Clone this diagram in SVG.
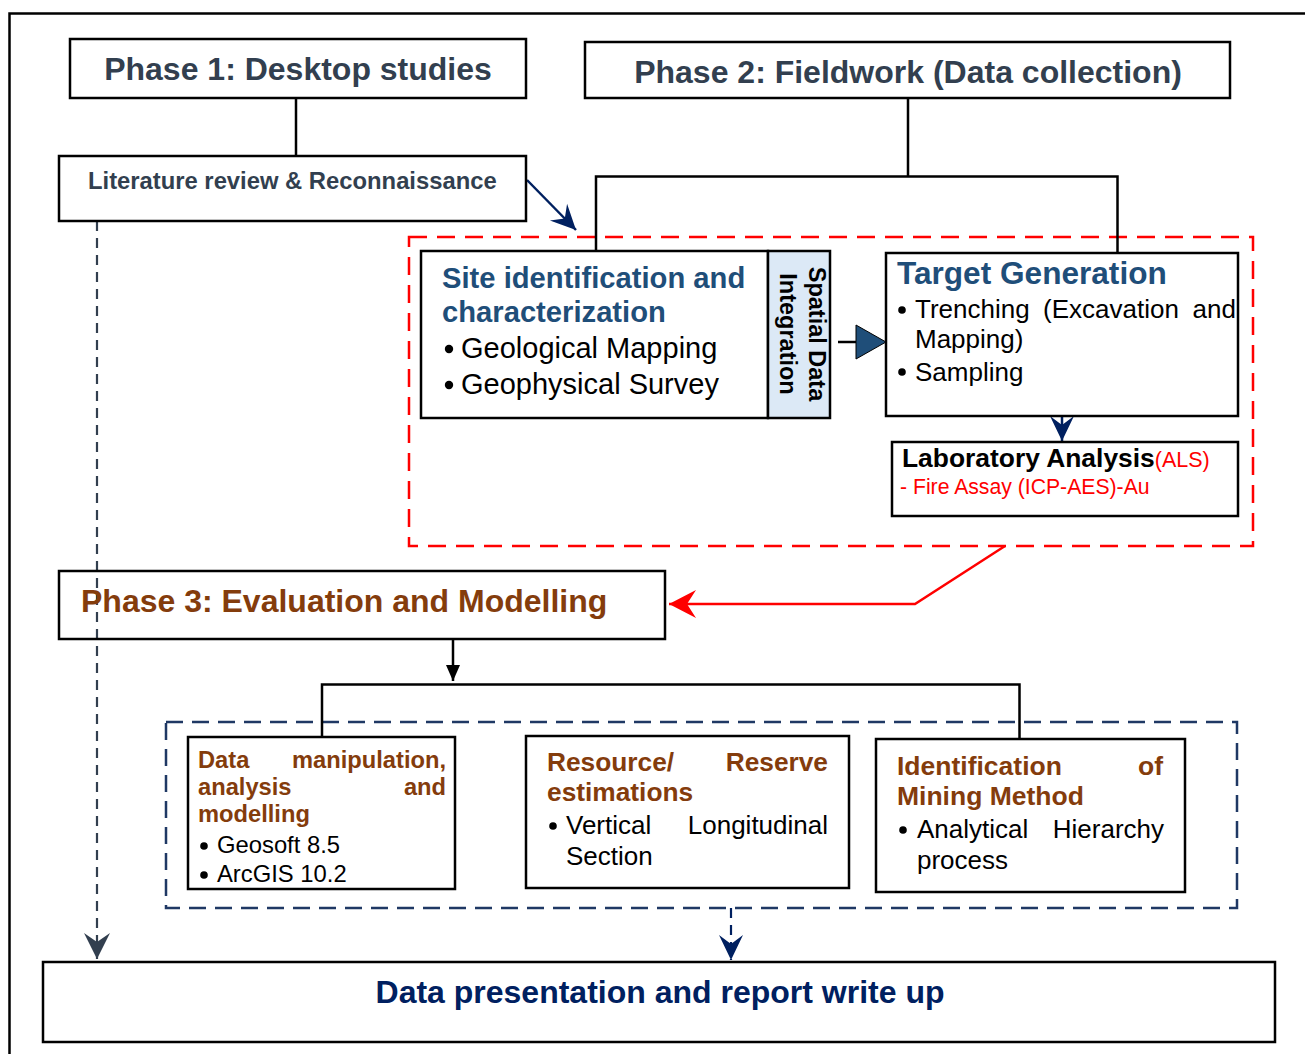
<svg xmlns="http://www.w3.org/2000/svg" width="1305" height="1054" viewBox="0 0 1305 1054">
  <style>
    text { font-family: "Liberation Sans", Arial, sans-serif; }
    .box { fill: none; stroke: #000; stroke-width: 2.5; }
    .b { font-weight: bold; }
    .slate { fill: #323f4f; }
    .blue { fill: #1f4e79; }
    .brown { fill: #843c0c; }
    .navy { fill: #002060; }
    .red { fill: #ff0000; }
    .ink { fill: #000; }
    .link { fill: none; stroke: #000; stroke-width: 2.5; }
    .dot { fill: #000; }
  </style>
  <defs>
    <marker id="stealthNavy" markerUnits="userSpaceOnUse" markerWidth="30" markerHeight="30" refX="0" refY="0" orient="auto" overflow="visible">
      <path d="M0,0 L-25,-12 L-16,0 L-25,12 Z" fill="#002060"/>
    </marker>
    <marker id="stealthRed" markerUnits="userSpaceOnUse" markerWidth="30" markerHeight="30" refX="0" refY="0" orient="auto" overflow="visible">
      <path d="M0,0 L-27,-14 L-18,0 L-27,14 Z" fill="#ff0000"/>
    </marker>
    <marker id="stealthSlate" markerUnits="userSpaceOnUse" markerWidth="30" markerHeight="30" refX="0" refY="0" orient="auto" overflow="visible">
      <path d="M0,0 L-26,-13 L-17,0 L-26,13 Z" fill="#323f4f"/>
    </marker>
    <marker id="triBlack" markerUnits="userSpaceOnUse" markerWidth="20" markerHeight="20" refX="0" refY="0" orient="auto" overflow="visible">
      <path d="M0,0 L-16,-7 L-16,7 Z" fill="#000"/>
    </marker>
  </defs>

  <rect width="1305" height="1054" fill="#fff"/>
  <!-- page frame -->
  <rect x="9.5" y="13.5" width="1330" height="1070" class="box"/>

  <!-- group outlines -->
  <rect id="fieldwork-zone" x="409" y="237" width="844" height="309" fill="none" stroke="#ff0000" stroke-width="2.5" stroke-dasharray="18 10"/>
  <rect id="modelling-zone" x="166" y="722" width="1071" height="186" fill="none" stroke="#1f3864" stroke-width="2.5" stroke-dasharray="17 9"/>

  <g id="connectors">
    <line x1="296" y1="98" x2="296" y2="156" class="link"/>
    <path d="M908,98 V176.5 M596,250 V176.5 H1117.5 V253" class="link"/>
    <line x1="527" y1="180" x2="576" y2="230" stroke="#002060" stroke-width="2.5" marker-end="url(#stealthNavy)"/>
    <line x1="838" y1="342" x2="858" y2="342" class="link"/>
    <path d="M856,325 L886,342 L856,359 Z" fill="#1f4e79" stroke="#000" stroke-width="1"/>
    <line x1="1062" y1="416" x2="1062" y2="441" stroke="#002060" stroke-width="2.5" marker-end="url(#stealthNavy)"/>
    <path d="M1005,546 L915,604 L669,604" fill="none" stroke="#ff0000" stroke-width="2.5" marker-end="url(#stealthRed)"/>
    <line x1="453" y1="639" x2="453" y2="681" class="link" marker-end="url(#triBlack)"/>
    <path d="M322,737 V684.5 H1019.5 V739" class="link"/>
    <line x1="97" y1="221" x2="97" y2="959" stroke="#323f4f" stroke-width="2.2" stroke-dasharray="10 7" marker-end="url(#stealthSlate)"/>
    <line x1="731" y1="908" x2="731" y2="960" stroke="#002060" stroke-width="2.2" stroke-dasharray="10 7" marker-end="url(#stealthNavy)"/>
  </g>

  <g id="phase1">
    <rect x="70" y="39" width="456" height="59" class="box"/>
    <text x="298" y="80" text-anchor="middle" font-size="32" class="b slate">Phase 1: Desktop studies</text>
  </g>

  <g id="literature-review">
    <rect x="59" y="156" width="467" height="65" class="box"/>
    <text x="88" y="189" font-size="23.8" class="b slate">Literature review &amp; Reconnaissance</text>
  </g>

  <g id="phase2">
    <rect x="585" y="42" width="645" height="56" class="box"/>
    <text x="908" y="83" text-anchor="middle" font-size="32" class="b slate">Phase 2: Fieldwork (Data collection)</text>
  </g>

  <g id="site-identification">
    <rect x="421" y="251" width="347" height="167" class="box"/>
    <text x="442" y="288" font-size="29.2" class="b blue">Site identification and</text>
    <text x="442" y="322" font-size="29.2" class="b blue">characterization</text>
    <circle cx="449" cy="349" r="4.2" class="dot"/>
    <text x="461" y="358" font-size="29" class="ink">Geological Mapping</text>
    <circle cx="449" cy="385" r="4.2" class="dot"/>
    <text x="461" y="394" font-size="29" class="ink">Geophysical Survey</text>
  </g>

  <g id="spatial-data-integration">
    <rect x="768" y="251" width="62" height="167" fill="#dce9f6" stroke="#000" stroke-width="2.5"/>
    <text transform="translate(809,334) rotate(90)" text-anchor="middle" font-size="23.5" class="b ink">Spatial Data</text>
    <text transform="translate(780,334) rotate(90)" text-anchor="middle" font-size="23.5" class="b ink">Integration</text>
  </g>

  <g id="target-generation">
    <rect x="886" y="253" width="352" height="163" class="box"/>
    <text x="897" y="284" font-size="31.6" class="b blue">Target Generation</text>
    <circle cx="902" cy="310" r="3.8" class="dot"/>
    <text x="915" y="318" font-size="26" class="ink">Trenching</text>
    <text x="1043" y="318" font-size="26" class="ink">(Excavation</text>
    <text x="1236" y="318" font-size="26" text-anchor="end" class="ink">and</text>
    <text x="915" y="348" font-size="26" class="ink">Mapping)</text>
    <circle cx="902" cy="372" r="3.8" class="dot"/>
    <text x="915" y="381" font-size="26" class="ink">Sampling</text>
  </g>

  <g id="laboratory-analysis">
    <rect x="892" y="442" width="346" height="74" class="box"/>
    <text x="902" y="467" font-size="26.4" class="b ink">Laboratory Analysis<tspan font-weight="normal" font-size="21.5" class="red">(ALS)</tspan></text>
    <text x="900" y="494" font-size="21.2" class="red">- Fire Assay (ICP-AES)-Au</text>
  </g>

  <g id="phase3">
    <rect x="59" y="571" width="606" height="68" class="box"/>
    <text x="81" y="612" font-size="32" class="b brown">Phase 3: Evaluation and Modelling</text>
  </g>

  <g id="data-manipulation">
    <rect x="188" y="737" width="267" height="152" class="box"/>
    <text x="198" y="768" font-size="23.7" class="b brown">Data</text>
    <text x="446" y="768" font-size="23.7" text-anchor="end" class="b brown">manipulation,</text>
    <text x="198" y="795" font-size="23.7" class="b brown">analysis</text>
    <text x="446" y="795" font-size="23.7" text-anchor="end" class="b brown">and</text>
    <text x="198" y="822" font-size="23.7" class="b brown">modelling</text>
    <circle cx="204" cy="846" r="3.8" class="dot"/>
    <text x="217" y="853" font-size="23.8" class="ink">Geosoft 8.5</text>
    <circle cx="204" cy="875" r="3.8" class="dot"/>
    <text x="217" y="882" font-size="23.8" class="ink">ArcGIS 10.2</text>
  </g>

  <g id="resource-estimation">
    <rect x="526" y="736" width="323" height="152" class="box"/>
    <text x="547" y="771" font-size="26.3" class="b brown">Resource/</text>
    <text x="828" y="771" font-size="26.3" text-anchor="end" class="b brown">Reserve</text>
    <text x="547" y="801" font-size="26.3" class="b brown">estimations</text>
    <circle cx="553" cy="826" r="3.8" class="dot"/>
    <text x="566" y="834" font-size="26" class="ink">Vertical</text>
    <text x="828" y="834" font-size="26" text-anchor="end" class="ink">Longitudinal</text>
    <text x="566" y="865" font-size="26" class="ink">Section</text>
  </g>

  <g id="mining-method">
    <rect x="876" y="739" width="309" height="153" class="box"/>
    <text x="897" y="775" font-size="26.5" class="b brown">Identification</text>
    <text x="1163" y="775" font-size="26.5" text-anchor="end" class="b brown">of</text>
    <text x="897" y="805" font-size="26.5" class="b brown">Mining Method</text>
    <circle cx="903" cy="830" r="3.8" class="dot"/>
    <text x="917" y="838" font-size="26" class="ink">Analytical</text>
    <text x="1164" y="838" font-size="26" text-anchor="end" class="ink">Hierarchy</text>
    <text x="917" y="869" font-size="26" class="ink">process</text>
  </g>

  <g id="report">
    <rect x="43" y="962" width="1232" height="80" class="box"/>
    <text x="660" y="1003" text-anchor="middle" font-size="32" class="b navy">Data presentation and report write up</text>
  </g>
</svg>
